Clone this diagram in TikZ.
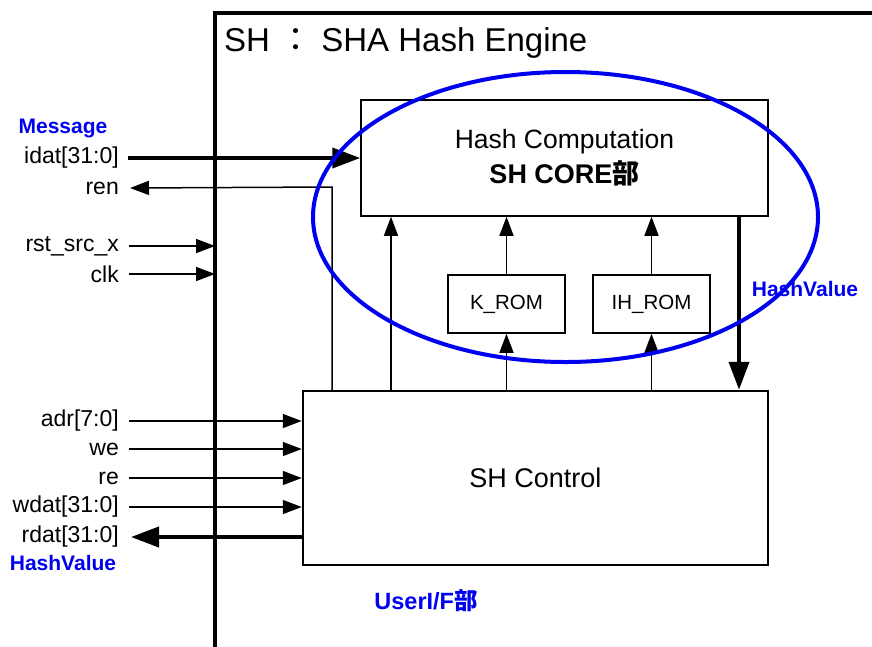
\documentclass[tikz,border=0pt]{standalone}
\usepackage{fontspec}
\setmainfont{Liberation Sans}
\newfontfamily\cjkfont{Noto Sans CJK JP}
\usetikzlibrary{arrows.meta,shapes.geometric}
\begin{document}
\begin{tikzpicture}[x=1pt,y=-1pt,
  thinline/.style={line width=1.5pt},
  thickline/.style={line width=4pt},
  sarrow/.style={thinline,-{Triangle[length=19pt,width=14pt]}},
  barrow/.style={thickline,-{Triangle[length=28pt,width=20pt]}},
  lbl/.style={font=\fontsize{23}{25}\selectfont, anchor=east, inner sep=0},
  bluelbl/.style={font=\fontsize{21}{23}\selectfont\bfseries, text={rgb,255:red,0;green,0;blue,240}, inner sep=0},
  box/.style={draw, line width=1.5pt, inner sep=0},
]
\useasboundingbox (0,0) rectangle (872,646);
\clip (0,0) rectangle (872,646);
\fill[white] (0,0) rectangle (872,646);

% outer engine border
\coordinate (bl) at (215,0);
\draw[line width=4pt] (215,660) |- (880,13);
\node[anchor=west, inner sep=0, font=\fontsize{33}{36}\selectfont] (title) at (224,43) {SH {\cjkfont ：} SHA Hash Engine};

% boxes
\node[box, minimum width=407, minimum height=116, align=center,
      font=\fontsize{26.5}{35}\selectfont] (hc) at (564.5,158)
      {Hash Computation\\ {\fontsize{27}{35}\selectfont\bfseries SH CORE{\cjkfont\bfseries 部}}};
\node[box, minimum width=117, minimum height=58, font=\fontsize{20.5}{23}\selectfont] (krom) at (506.5,304) {K\_ROM};
\node[box, minimum width=117, minimum height=58, font=\fontsize{20.5}{23}\selectfont] (ihrom) at (651.5,304) {IH\_ROM};
\node[draw, line width=2.5pt, inner sep=0, minimum width=465, minimum height=174, font=\fontsize{27}{30}\selectfont] (ctrl) at (535.5,478) {SH Control};

% left labels
\node[bluelbl] (msg) at (63,128) {Message};
\node[lbl] (idat) at (119,158) {idat[31:0]};
\node[lbl] (ren) at (119,188) {ren};
\node[lbl] (rst) at (119,246) {rst\_src\_x};
\node[lbl] (clk) at (119,274) {clk};
\node[lbl] (adr) at (119,421) {adr[7:0]};
\node[lbl] (we) at (119,449) {we};
\node[lbl] (re) at (119,478) {re};
\node[lbl] (wdat) at (119,507) {wdat[31:0]};
\node[lbl] (rdat) at (119,537) {rdat[31:0]};
\node[bluelbl] (hvl) at (63,563) {HashValue};
\node[bluelbl] (hvr) at (805,289) {HashValue};
\node[bluelbl, font=\fontsize{23.5}{25}\selectfont\bfseries] (uif) at (426,601) {UserI/F{\cjkfont\bfseries 部}};

% connectors
\draw[barrow] ([xshift=9pt]idat.east) -- (hc.west);
\coordinate (renj) at (332,187);
\draw[sarrow] (ctrl.north -| renj) -- (renj) -- ([xshift=11pt]ren.east);
\draw[sarrow] ([xshift=10pt]rst.east) -- (rst.east -| bl);
\draw[sarrow] ([xshift=10pt]clk.east) -- (clk.east -| bl);
\foreach \s in {adr,we,re,wdat}
  \draw[sarrow] ([xshift=10pt]\s.east) -- (\s.east -| ctrl.west);
\draw[barrow] (ctrl.west |- rdat.east) -- ([xshift=12pt]rdat.east);

\coordinate (c1) at (391,0);
\draw[sarrow] (ctrl.north -| c1) -- (hc.south -| c1);
\draw[sarrow] (ctrl.north -| krom) -- (krom.south);
\draw[sarrow] (krom.north) -- (hc.south -| krom);
\draw[sarrow] (ctrl.north -| ihrom) -- (ihrom.south);
\draw[sarrow] (ihrom.north) -- (hc.south -| ihrom);
\coordinate (hv) at (739,0);
\draw[barrow] (hc.south -| hv) -- (ctrl.north -| hv);

% blue oval
\node[draw={rgb,255:red,0;green,0;blue,240}, line width=4pt, ellipse, inner sep=0,
      minimum width=505, minimum height=290] (coreoval) at (565.5,217) {};
\end{tikzpicture}
\end{document}
